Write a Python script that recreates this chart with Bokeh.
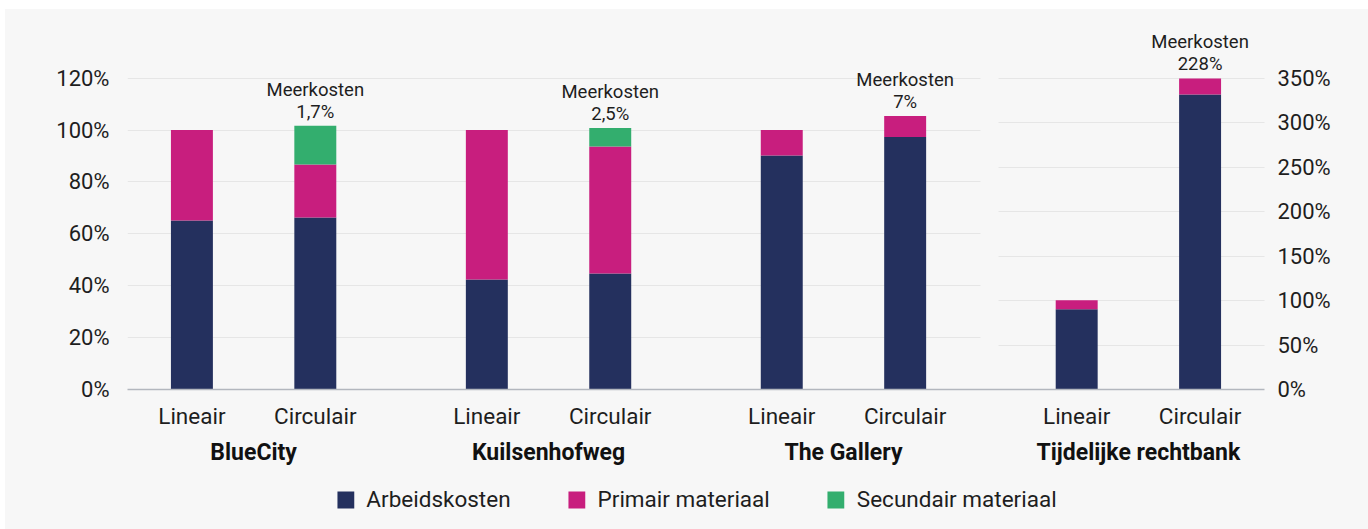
from bokeh.plotting import figure
from bokeh.models import (FactorRange, Range1d, ColumnDataSource, FixedTicker,
                          PrintfTickFormatter, Legend, LegendItem, LinearAxis, Grid)
from bokeh.layouts import column
from bokeh.core.properties import value
from bokeh.embed import file_html
from bokeh.resources import INLINE

# Projects and variants
projects = ["BlueCity", "Kuilsenhofweg", "The Gallery", "Tijdelijke rechtbank"]
variants = ["Lineair", "Circulair"]

# Cost shares (% of the linear variant), one value per project/variant pair
arbeidskosten = [65.2, 66.3, 42.4, 44.7, 90.2, 97.3, 90.3, 332.0]
primair_materiaal = [34.8, 20.4, 57.6, 49.0, 9.8, 8.1, 10.2, 18.0]
secundair_materiaal = [0.0, 15.0, 0.0, 7.1, 0.0, 0.0, 0.0, 0.0]

# Extra cost of the circular variant per project
meerkosten = ["1,7%", "2,5%", "7%", "228%"]

series = ["arbeid", "primair", "secundair"]
series_labels = ["Arbeidskosten", "Primair materiaal", "Secundair materiaal"]
colors = ["#24305E", "#C81E7E", "#33AE6E"]

left_ticks = [0, 20, 40, 60, 80, 100, 120]
right_ticks = [0, 50, 100, 150, 200, 250, 300, 350]

BG = "#F7F7F7"
FONT = "Roboto"
TXT = "#1E1E1E"
GRID = "#E6E6E6"
AXIS = "#B3B7BE"

factors = [(p, v) for p in projects for v in variants]
left_projects = projects[:3]    # 0-120% scale
right_projects = projects[3:]   # 0-350% scale


def bar_source(proj_subset):
    idx = [i for i, f in enumerate(factors) if f[0] in proj_subset]
    return ColumnDataSource(dict(
        x=[factors[i] for i in idx],
        arbeid=[arbeidskosten[i] for i in idx],
        primair=[primair_materiaal[i] for i in idx],
        secundair=[secundair_materiaal[i] for i in idx],
    ))


def label_source(proj_subset):
    xs, ys, texts = [], [], []
    for k, p in enumerate(projects):
        if p not in proj_subset:
            continue
        i = factors.index((p, "Circulair"))
        xs.append((p, "Circulair"))
        ys.append(arbeidskosten[i] + primair_materiaal[i] + secundair_materiaal[i])
        texts.append("Meerkosten\n" + meerkosten[k])
    return ColumnDataSource(dict(x=xs, y=ys, text=texts))


x_range = FactorRange(*factors, factor_padding=0.0, group_padding=0.39,
                      range_padding=0.022, range_padding_units="absolute")

p = figure(width=1363, height=470, x_range=x_range, y_range=Range1d(0, 138.4),
           toolbar_location=None, output_backend="svg",
           min_border_left=122, min_border_right=104,
           min_border_top=21, min_border_bottom=90)
p.extra_y_ranges = {"right": Range1d(0, 404)}

p.background_fill_color = BG
p.border_fill_color = BG
p.outline_line_color = None

# Bars and extra-cost labels, per scale
p.vbar_stack(series, x="x", width=0.34, color=colors, line_color=None,
             source=bar_source(left_projects))
p.vbar_stack(series, x="x", width=0.34, color=colors, line_color=None,
             source=bar_source(right_projects), y_range_name="right")

label_style = dict(text_align="center", text_baseline="bottom", y_offset=-3,
                   text_font=value(FONT), text_font_size="18.5px", text_color=TXT,
                   text_line_height=1.0)
p.text(x="x", y="y", text="text", source=label_source(left_projects), **label_style)
p.text(x="x", y="y", text="text", source=label_source(right_projects),
       y_range_name="right", **label_style)

# Grids: one per scale, each limited to its own part of the frame
p.xgrid.grid_line_color = None
p.ygrid.ticker = FixedTicker(ticks=left_ticks)
p.ygrid.grid_line_color = GRID
p.ygrid.cross_bounds = (-0.022, 6.89)
right_grid = Grid(dimension=1, ticker=FixedTicker(ticks=right_ticks),
                  y_range_name="right", cross_bounds=(7.04, 9.2),
                  grid_line_color=GRID)
p.add_layout(right_grid)

# Axes
right_axis = LinearAxis(y_range_name="right", ticker=FixedTicker(ticks=right_ticks))
p.add_layout(right_axis, "right")
p.yaxis[0].ticker = FixedTicker(ticks=left_ticks)
p.yaxis[0].major_label_standoff = 12
right_axis.major_label_standoff = 7
for ax in p.yaxis:
    ax.axis_line_color = None
    ax.major_tick_line_color = None
    ax.minor_tick_line_color = None
    ax.major_label_text_font = FONT
    ax.major_label_text_font_size = "22px"
    ax.major_label_text_color = TXT
    ax.formatter = PrintfTickFormatter(format="%d%%")

xa = p.xaxis[0]
xa.axis_line_color = AXIS
xa.axis_line_width = 1.5
xa.major_tick_line_color = None
xa.minor_tick_line_color = None
xa.major_label_text_font = FONT
xa.major_label_text_font_size = "22.5px"
xa.major_label_text_color = TXT
xa.major_label_standoff = 7
xa.group_text_font = FONT
xa.group_text_font_size = "23px"
xa.group_text_font_style = "bold"
xa.group_text_color = "#111111"
xa.separator_line_color = None

# Legend strip; its key swatches sit entirely outside the strip's visible range
pl = figure(width=1363, height=50, x_range=Range1d(0, 1), y_range=Range1d(0, 1),
            toolbar_location=None, output_backend="svg",
            min_border_left=18, min_border_right=0, min_border_top=0,
            min_border_bottom=0)
pl.background_fill_color = BG
pl.border_fill_color = BG
pl.outline_line_color = None
pl.axis.visible = False
pl.grid.visible = False
items = []
for lab, c in zip(series_labels, colors):
    r = pl.vbar(x=[-10], bottom=[-5], top=[-4], width=0.1, color=c, line_color=None)
    items.append(LegendItem(label=lab, renderers=[r]))
legend = Legend(items=items, orientation="horizontal", location="top_center",
                glyph_width=21, glyph_height=21, label_standoff=11, spacing=55,
                label_text_font=FONT, label_text_font_size="22.5px",
                label_text_color=TXT, padding=0, margin=7,
                background_fill_alpha=0, border_line_color=None)
pl.add_layout(legend)

layout = column(p, pl, margin=(9, 0, 0, 5), styles={"background-color": BG})

open("out.html", "w").write(file_html(layout, INLINE))
